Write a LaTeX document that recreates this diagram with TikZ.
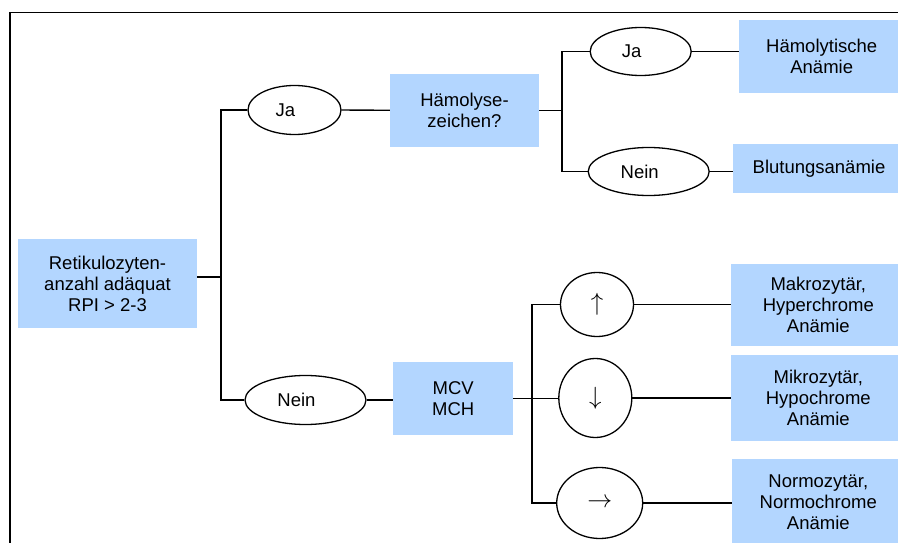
\documentclass[tikz,border=0pt]{standalone}
\usepackage{fontspec}
\setmainfont{Liberation Sans}
\usetikzlibrary{shapes.geometric}
\definecolor{boxblue}{RGB}{179,214,255}
\newcommand{\leftshift}[1]{#1\hspace*{18pt}}
\begin{document}
\begin{tikzpicture}[x=1pt,y=-1pt,
  every node/.style={font=\fontsize{18.5}{21}\selectfont},
  bluebox/.style={fill=boxblue,draw=none,inner sep=0pt,align=center},
  oval/.style={ellipse,draw=black,line width=1.3pt,fill=white,inner sep=0pt},
  conn/.style={line width=1.4pt,draw=black},
  arr/.style={font=\fontsize{27}{27}\selectfont}]
\useasboundingbox (0,0) rectangle (898,543);
\clip (0,0) rectangle (898,543);
% frame
\draw[line width=1.5pt] (10,545) -- (10,12.5) -- (900,12.5);
% nodes
\node[bluebox,minimum width=179pt,minimum height=89pt] (ret) at (107.5,283.5) {Retikulozyten-\\anzahl adäquat\\RPI > 2-3};
\node[oval,minimum width=93pt,minimum height=49pt] (ja1) at (294.5,110) {\leftshift{Ja}};
\node[oval,minimum width=121pt,minimum height=49pt] (nein1) at (305.5,400) {\leftshift{Nein}};
\node[bluebox,minimum width=149pt,minimum height=73pt] (hz) at (464.5,110.3) {Hämolyse-\\zeichen?};
\node[bluebox,minimum width=120pt,minimum height=73pt] (mcv) at (453.2,398.5) {MCV\\MCH};
\node[oval,minimum width=101pt,minimum height=48pt] (ja2) at (640.7,51.5) {\leftshift{Ja}};
\node[oval,minimum width=121pt,minimum height=48pt] (nein2) at (648.7,171.5) {\leftshift{Nein}};
\node[bluebox,minimum width=165pt,minimum height=73pt] (haem) at (821.7,56.3) {Hämolytische\\Anämie};
\node[bluebox,minimum width=172pt,minimum height=49pt] (blut) at (819,168.3) {Blutungsanämie};
\node[oval,minimum width=73pt,minimum height=64pt,arr] (up) at (597,304.5) {$\uparrow$};
\node[oval,minimum width=73pt,minimum height=79pt,arr] (down) at (595.3,398) {$\downarrow$};
\node[oval,minimum width=86pt,minimum height=71pt,arr] (right) at (599.7,503) {$\rightarrow$};
\node[bluebox,minimum width=175pt,minimum height=82pt] (makro) at (818.3,304.9) {Makrozytär,\\Hyperchrome\\Anämie};
\node[bluebox,minimum width=175pt,minimum height=86pt] (mikro) at (818.3,397.9) {Mikrozytär,\\Hypochrome\\Anämie};
\node[bluebox,minimum width=172pt,minimum height=86pt] (normo) at (818.3,502) {Normozytär,\\Normochrome\\Anämie};
% junction coordinates
\coordinate (v1) at (221,0);
\coordinate (v2) at (562,0);
\coordinate (v3) at (532,0);
% connectors
\draw[conn] ([yshift=6.5pt]ret.east) -- ([yshift=6.5pt]ret.east -| v1);
\draw[conn] (ja1.west) -| (nein1.west -| v1) -- (nein1.west);
\draw[conn] (ja1.east) -- (hz.west);
\draw[conn] (nein1.east) -- (nein1.east -| mcv.west);
\draw[conn] (hz.east) -- (hz.east -| v2);
\draw[conn] (ja2.west) -| (nein2.west -| v2) -- (nein2.west);
\draw[conn] (ja2.east) -- (ja2.east -| haem.west);
\draw[conn] (nein2.east) -- (nein2.east -| blut.west);
\draw[conn] (mcv.east) -- (mcv.east -| down.west);
\draw[conn] (up.west) -| (right.west -| v3) -- (right.west);
\draw[conn] (up.east) -- (up.east -| makro.west);
\draw[conn] (down.east) -- (down.east -| mikro.west);
\draw[conn] (right.east) -- (right.east -| normo.west);
\end{tikzpicture}
\end{document}
